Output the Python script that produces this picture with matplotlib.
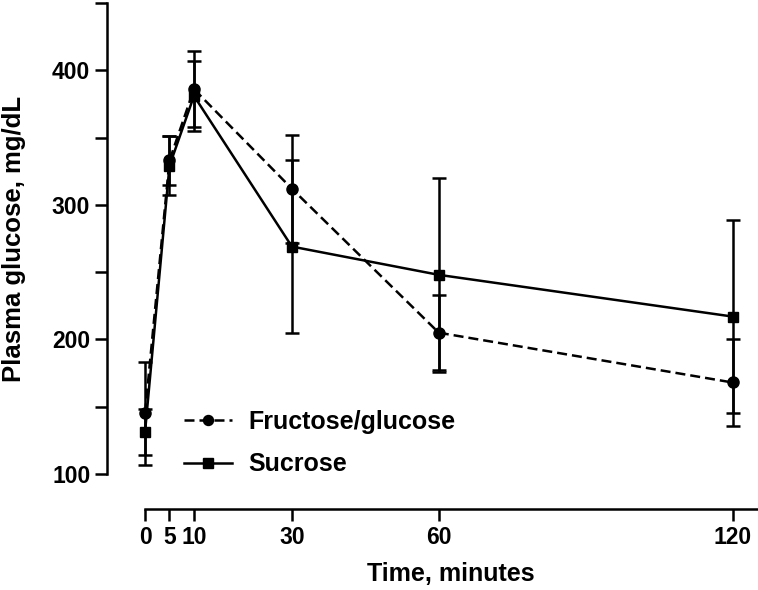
import matplotlib
matplotlib.use("Agg")
import matplotlib.pyplot as plt
from matplotlib.ticker import MultipleLocator

# Plasma glucose after drink (mean +/- SD)
time_min = [0, 5, 10, 30, 60, 120]
fructose_glucose = [145, 333, 386, 312, 205, 168]
fructose_glucose_sd = [38, 18, 28, 40, 28, 32]
sucrose = [131, 329, 381, 269, 248, 217]
sucrose_sd = [17, 22, 26, 64, 72, 72]
x_ticks = [0, 5, 10, 30, 60, 120]
y_ticks = [100, 200, 300, 400]

plt.rcParams['font.family'] = ['Liberation Sans', 'DejaVu Sans']
plt.rcParams['font.weight'] = 'bold'

fig = plt.figure(figsize=(7.58, 5.90), dpi=100)
ax = fig.add_axes([145 / 758, 116 / 590, 612 / 758, 471 / 590])

lw = 1.8
fg = ax.errorbar(time_min, fructose_glucose, yerr=fructose_glucose_sd, color='black',
                 lw=lw, ls=(0, (4, 2)), marker='o', ms=8, capsize=5, capthick=lw,
                 elinewidth=lw, label='Fructose/glucose')
sc = ax.errorbar(time_min, sucrose, yerr=sucrose_sd, color='black',
                 lw=lw, ls='-', marker='s', ms=7.5, capsize=5, capthick=lw,
                 elinewidth=lw, label='Sucrose')
# keep the t=0 error bars from being clipped at the axes edge
for cont in (fg, sc):
    for art in cont.get_children():
        art.set_clip_on(False)

ax.set_xlim(0, 125)
ax.set_ylim(100, 450)

for side in ['top', 'right']:
    ax.spines[side].set_visible(False)
ax.spines['left'].set_position(('outward', 27.4))
ax.spines['bottom'].set_position(('outward', 25.2))
ax.spines['left'].set_linewidth(lw)
ax.spines['bottom'].set_linewidth(lw)

ax.set_xticks(x_ticks)
ax.set_yticks(y_ticks)
ax.yaxis.set_minor_locator(MultipleLocator(50))
ax.tick_params(axis='both', which='both', width=lw, length=8.5, direction='out')
ax.tick_params(axis='y', labelsize=16.5, pad=3.5)
ax.tick_params(axis='x', labelsize=16.5, pad=4)
for lab in ax.get_xticklabels() + ax.get_yticklabels():
    lab.set_fontweight('bold')

ax.set_ylabel('Plasma glucose, mg/dL', fontsize=18.5, fontweight='bold', labelpad=19)
ax.set_xlabel('Time, minutes', fontsize=18, fontweight='bold', labelpad=9)

handles, labels = ax.get_legend_handles_labels()
handles = [h[0] for h in handles]
ax.legend(handles, labels, loc='center left', bbox_to_anchor=(0.064, 0.066),
          frameon=False, handlelength=1.9, handletextpad=0.65, labelspacing=0.75,
          borderpad=0, borderaxespad=0, markerscale=0.9,
          prop={'weight': 'bold', 'size': 18})

fig.savefig('out.png', dpi=100)
